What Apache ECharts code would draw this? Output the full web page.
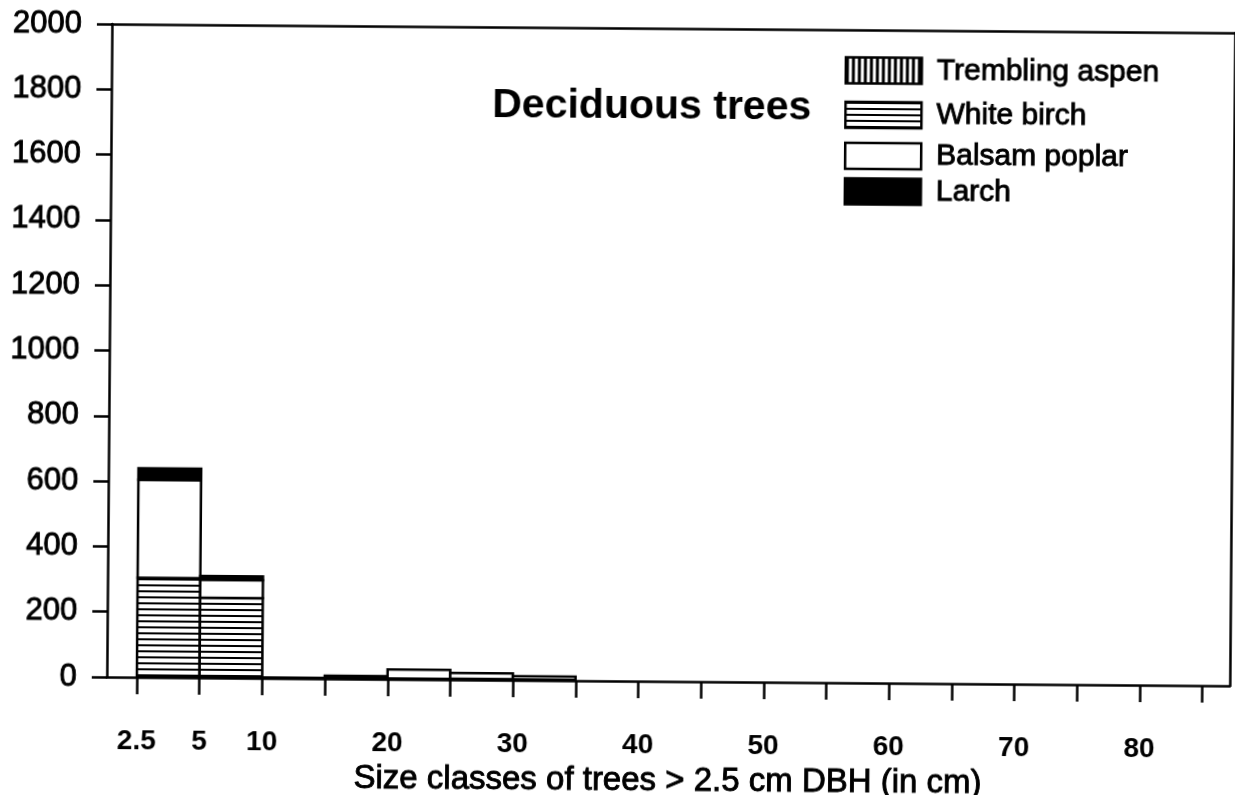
<!DOCTYPE html>
<html>
<head>
<meta charset="utf-8">
<script src="https://cdn.jsdelivr.net/npm/echarts@6/dist/echarts.min.js"></script>
<style>
  html, body { margin: 0; padding: 0; background: #fff; overflow: hidden; }
  #wrap { width: 1235px; height: 795px; transform: rotate(0.45deg); transform-origin: 50% 50%; }
  #chart { width: 1235px; height: 795px; }
</style>
</head>
<body>
<div id="wrap"><div id="chart"></div></div>
<script>
// Size-class boundaries (cm DBH); each bin spans two neighbouring edges
const sizeClassEdges = ['2.5', '5', '10', '15', '20', '25', '30', '35', '40', '45', '50', '55', '60', '65', '70', '75', '80', '85'];
const labelledEdges = ['2.5', '5', '10', '20', '30', '40', '50', '60', '70', '80'];

// Number of stems per size class, one value per bin (17 bins)
const tremblingAspen = [0, 0, 0, 0, 0, 0, 0, 0, 0, 0, 0, 0, 0, 0, 0, 0, 0];
const whiteBirch     = [305, 245, 2, 8, 2, 3, 2, 0, 0, 0, 0, 0, 0, 0, 0, 0, 0];
const balsamPoplar   = [300, 55, 0, 1, 28, 18, 10, 0, 0, 0, 0, 0, 0, 0, 0, 0, 0];
const larch          = [35, 12, 0, 0, 0, 0, 0, 0, 0, 0, 0, 0, 0, 0, 0, 0, 0];

const speciesNames = ['Trembling aspen', 'White birch', 'Balsam poplar', 'Larch'];
const speciesValues = [tremblingAspen, whiteBirch, balsamPoplar, larch];

const FONT = "'Liberation Sans', Arial, Helvetica, sans-serif";

// Hatch fills
function stripeCanvas(vertical) {
  const c = document.createElement('canvas');
  c.width = 6; c.height = 6;
  const g = c.getContext('2d');
  g.fillStyle = '#fff';
  g.fillRect(0, 0, 6, 6);
  g.fillStyle = '#000';
  if (vertical) g.fillRect(0, 0, 3, 6);
  else g.fillRect(0, 0, 6, 2);
  return c;
}
const fills = [
  { image: stripeCanvas(true), repeat: 'repeat' },
  { image: stripeCanvas(false), repeat: 'repeat' },
  '#ffffff',
  '#000000'
];

// Stack the species bottom-up within each bin
const cumulative = new Array(whiteBirch.length).fill(0);
const series = speciesNames.map((name, s) => {
  const data = speciesValues[s].map((v, i) => {
    const base = cumulative[i];
    cumulative[i] += v;
    return [i, base, base + v];
  });
  const fill = fills[s];
  return {
    name: name,
    type: 'custom',
    xAxisIndex: 0,
    yAxisIndex: 0,
    clip: true,
    itemStyle: { color: fill },
    renderItem: function (params, api) {
      const i = api.value(0), lo = api.value(1), hi = api.value(2);
      if (hi <= lo) return null;
      const p0 = api.coord([i, lo]);
      const p1 = api.coord([i + 1, hi]);
      return {
        type: 'rect',
        shape: { x: p0[0], y: p1[1], width: p1[0] - p0[0], height: p0[1] - p1[1] },
        style: { fill: fill, stroke: '#000', lineWidth: 2.5 }
      };
    },
    data: data
  };
});

// Heavier body text, like the printed figure
const inkText = { textBorderColor: '#000', textBorderWidth: 0.9 };

// One legend block per species so each row sits at its own height
const legendRows = [66.5, 111, 152, 187.5];
const legends = speciesNames.map((name, s) => ({
  left: 842,
  top: legendRows[s] - 13.5,
  padding: 0,
  icon: 'rect',
  itemWidth: 76,
  itemHeight: 26,
  itemGap: 0,
  selectedMode: false,
  textStyle: Object.assign({ fontFamily: FONT, fontSize: 30, color: '#000', padding: [0, 0, 0, 10], lineHeight: 27 }, inkText),
  data: [{ name: name, itemStyle: { color: fills[s], borderColor: '#000', borderWidth: 2.5 } }]
}));

const chart = echarts.init(document.getElementById('chart'), null, { renderer: 'canvas' });
chart.setOption({
  backgroundColor: '#fff',
  animation: false,
  title: {
    text: 'Deciduous trees',
    left: 490,
    top: 86,
    padding: 0,
    textStyle: { fontFamily: FONT, fontSize: 41, fontWeight: 'bold', color: '#000' }
  },
  legend: legends,
  grid: { left: 109, right: 3, top: 28, bottom: 114, containLabel: false, outerBoundsMode: 'none' },
  xAxis: [{
    type: 'value',
    min: -0.48,
    max: 17.44,
    splitLine: { show: false },
    axisLine: { show: true, onZero: false, lineStyle: { color: '#000', width: 2.5 } },
    axisTick: {
      show: true,
      length: 17,
      lineStyle: { color: '#000', width: 2.5 },
      customValues: sizeClassEdges.map((e, i) => i)
    },
    axisLabel: {
      show: true,
      margin: 50,
      fontFamily: FONT,
      fontSize: 28,
      fontWeight: 'bold',
      color: '#000',
      customValues: labelledEdges.map(e => sizeClassEdges.indexOf(e)),
      formatter: v => sizeClassEdges[Math.round(v)]
    },
    name: 'Size classes of trees > 2.5 cm DBH (in cm)',
    nameLocation: 'middle',
    nameGap: 70,
    nameTextStyle: Object.assign({ fontFamily: FONT, fontSize: 33, color: '#000' }, inkText)
  }, {
    type: 'value',
    position: 'top',
    min: -0.48,
    max: 17.44,
    splitLine: { show: false },
    axisLine: { show: true, onZero: false, lineStyle: { color: '#000', width: 2.5 } },
    axisTick: { show: false },
    axisLabel: { show: false }
  }],
  yAxis: [{
    type: 'value',
    min: 0,
    max: 2000,
    interval: 200,
    splitLine: { show: false },
    axisLine: { show: true, onZero: false, lineStyle: { color: '#000', width: 2.5 } },
    axisTick: { show: true, inside: false, length: 15, lineStyle: { color: '#000', width: 2.5 } },
    axisLabel: Object.assign({
      margin: 30,
      fontFamily: FONT,
      fontSize: 31,
      color: '#000',
      formatter: v => String(v)
    }, inkText)
  }, {
    type: 'value',
    position: 'right',
    min: 0,
    max: 2000,
    splitLine: { show: false },
    axisLine: { show: true, onZero: false, lineStyle: { color: '#000', width: 2.5 } },
    axisTick: { show: false },
    axisLabel: { show: false }
  }],
  series: series
});
</script>
</body>
</html>
